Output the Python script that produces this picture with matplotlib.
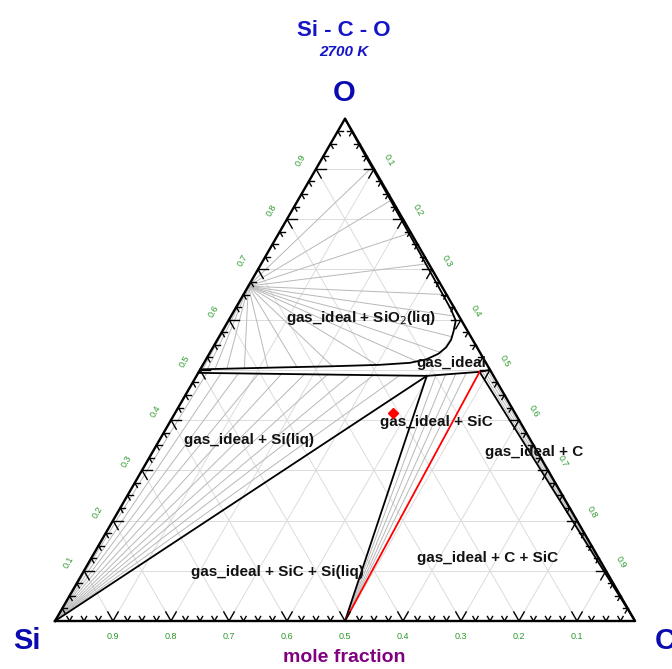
import numpy as np
import matplotlib
matplotlib.use("Agg")
import matplotlib.pyplot as plt

plt.rcParams['font.family'] = ['Liberation Sans', 'DejaVu Sans']

S3 = np.sqrt(3) / 2

# compositions are (x_C, x_O); x_Si = 1 - x_C - x_O
si_pt = (0.0, 0.0)
c_pt = (1.0, 0.0)
sic_pt = (0.5, 0.0)
sio2_pt = (0.0, 2 / 3)
gas1 = (0.397, 0.488)   # gas + SiC + Si(liq)
gas2 = (0.484, 0.496)   # gas + C + SiC

# upper edge of the gas field (boundary with gas + SiO2(liq))
upper_c = [0.000, 0.070, 0.142, 0.220, 0.305, 0.355, 0.380, 0.395, 0.402, 0.403,
           0.399, 0.392, 0.372, 0.325, 0.275, 0.226, 0.176, 0.126, 0.077, 0.035, 0.0]
upper_o = [0.501, 0.503, 0.505, 0.507, 0.510, 0.514, 0.521, 0.532, 0.545, 0.560,
           0.576, 0.598, 0.621, 0.669, 0.720, 0.770, 0.821, 0.872, 0.921, 0.964, 1.0]

# lower edge of the gas field
lower_c = [0.000, 0.200, gas1[0], 0.440, gas2[0], 0.5]
lower_o = [0.494, 0.491, gas1[1], 0.492, gas2[1], 0.5]

# tie lines: gas ends
sio2_tie_c = [0.004, 0.012, 0.025, 0.045, 0.075, 0.115, 0.165, 0.225, 0.300, 0.365,
              0.396, 0.401, 0.385, 0.345, 0.285, 0.225, 0.160, 0.095]
sio2_tie_o = [0.501, 0.502, 0.502, 0.503, 0.503, 0.504, 0.505, 0.507, 0.510, 0.517,
              0.535, 0.566, 0.607, 0.650, 0.711, 0.772, 0.837, 0.903]
siliq_tie_c = [0.015, 0.040, 0.070, 0.105, 0.145, 0.185, 0.225, 0.265, 0.305, 0.350]
siliq_tie_o = [0.494, 0.494, 0.494, 0.493, 0.493, 0.492, 0.492, 0.491, 0.490, 0.489]
sic_tie_c = [0.412, 0.428, 0.445, 0.462]
sic_tie_o = [0.489, 0.490, 0.492, 0.494]
c_tie_c = [0.488, 0.492, 0.496]
c_tie_o = [0.497, 0.498, 0.499]

marker_c, marker_o = 0.376, 0.414

grid_vals = [0.1, 0.2, 0.3, 0.4, 0.5, 0.6, 0.7, 0.8, 0.9]
bottom_labels = ['0.9', '0.8', '0.7', '0.6', '0.5', '0.4', '0.3', '0.2', '0.1']

region_text = [
    ('gas_ideal + SiO$_2$(liq)', 0.226, 0.604),
    ('gas_ideal', 0.426, 0.514),
    ('gas_ideal + SiC', 0.459, 0.396),
    ('gas_ideal + Si(liq)', 0.154, 0.361),
    ('gas_ideal + C', 0.658, 0.337),
    ('gas_ideal + C + SiC', 0.683, 0.126),
    ('gas_ideal + SiC + Si(liq)', 0.334, 0.098),
]


def xy(c, o):
    c = np.asarray(c, dtype=float)
    o = np.asarray(o, dtype=float)
    return c + o / 2, o * S3


def seg(ax, p, q, **kw):
    x0, y0 = xy(*p)
    x1, y1 = xy(*q)
    ax.plot([x0, x1], [y0, y1], **kw)


fig = plt.figure(figsize=(6.72, 6.69), dpi=100)
ax = fig.add_axes([0, 0, 1, 1])
ax.set_xlim(-55 / 580, 617 / 580)
ax.set_ylim(-48 / 580, 621 / 580)
ax.axis('off')

# background grid
gc = '#dcdcdc'
for v in grid_vals:
    seg(ax, (0, v), (1 - v, v), color=gc, lw=0.7, zorder=1)
    seg(ax, (v, 0), (v, 1 - v), color=gc, lw=0.7, zorder=1)
    seg(ax, (0, v), (v, 0), color=gc, lw=0.7, zorder=1)

# tie lines
tc = '#b8b8b8'
for c, o in zip(sio2_tie_c, sio2_tie_o):
    seg(ax, sio2_pt, (c, o), color=tc, lw=0.7, zorder=2)
for c, o in zip(siliq_tie_c, siliq_tie_o):
    seg(ax, si_pt, (c, o), color=tc, lw=0.7, zorder=2)
for c, o in zip(sic_tie_c, sic_tie_o):
    seg(ax, sic_pt, (c, o), color=tc, lw=0.7, zorder=2)
for c, o in zip(c_tie_c, c_tie_o):
    seg(ax, c_pt, (c, o), color=tc, lw=0.7, zorder=2)

# phase boundaries
ux, uy = xy(upper_c, upper_o)
ax.plot(ux, uy, color='black', lw=1.3, zorder=3)
lx, ly = xy(lower_c, lower_o)
ax.plot(lx, ly, color='black', lw=1.3, zorder=3)
seg(ax, si_pt, gas1, color='black', lw=1.3, zorder=3)
seg(ax, sic_pt, gas1, color='black', lw=1.3, zorder=3)
seg(ax, c_pt, gas2, color='black', lw=1.3, zorder=3)
seg(ax, sic_pt, gas2, color='red', lw=1.3, zorder=4)

# frame
tx, ty = xy([0, 1, 0, 0], [0, 0, 1, 0])
ax.plot(tx, ty, color='black', lw=1.7, zorder=5)

# chevron ticks along each edge
corners = {'Si': np.array([0.0, 0.0]), 'C': np.array([1.0, 0.0]), 'O': np.array([0.5, S3])}
edges = [
    (corners['Si'], corners['C'], (60, 120)),
    (corners['Si'], corners['O'], (0, -60)),
    (corners['C'], corners['O'], (180, 240)),
]
for a, b, angs in edges:
    for k in range(1, 40):
        t = k / 40
        p = a + t * (b - a)
        L = 0.018 if k % 4 == 0 else 0.009
        for ang in angs:
            r = np.radians(ang)
            ax.plot([p[0], p[0] + L * np.cos(r)], [p[1], p[1] + L * np.sin(r)],
                    color='black', lw=1.0, zorder=5)

# edge labels
green = '#2e9a2e'
off = 0.03
for v, lab in zip(grid_vals, bottom_labels):
    ax.text(v, -0.026, lab, color=green, fontsize=6.5, ha='center', va='center')
for v in grid_vals:
    x, y = xy(0, v)
    ax.text(x - off * S3, y + off * 0.5, f'{v:.1f}', color=green, fontsize=6.5,
            rotation=60, ha='center', va='center')
    x, y = xy(v, 1 - v)
    ax.text(x + off * S3, y + off * 0.5, f'{v:.1f}', color=green, fontsize=6.5,
            rotation=-60, ha='center', va='center')

# region names
for s, c, o in region_text:
    x, y = xy(c, o)
    ax.text(x, y, s, fontsize=11, fontweight='bold', color='#111111',
            ha='center', va='center', zorder=6)

mx, my = xy(marker_c, marker_o)
ax.plot(mx, my, marker='D', color='red', ms=5.5, zorder=7)

# titles and corner names
blue = '#1515c8'
fig.text(0.512, 1 - 30 / 669, 'Si - C - O', color=blue, fontsize=16, fontweight='bold',
         ha='center', va='center')
fig.text(0.512, 1 - 52 / 669, '2700 K', color=blue, fontsize=11, fontweight='bold',
         style='italic', ha='center', va='center')
fig.text(0.512, 1 - 93 / 669, 'O', color='#0a0ab0', fontsize=21, fontweight='bold',
         ha='center', va='center')
fig.text(27 / 672, 1 - 641 / 669, 'Si', color='#0a0ab0', fontsize=21, fontweight='bold',
         ha='center', va='center')
fig.text(665 / 672, 1 - 641 / 669, 'C', color='#0a0ab0', fontsize=21, fontweight='bold',
         ha='center', va='center')
fig.text(0.512, 1 - 658 / 669, 'mole fraction', color='#800080', fontsize=14,
         fontweight='bold', ha='center', va='center')

fig.savefig('out.png', dpi=100)
